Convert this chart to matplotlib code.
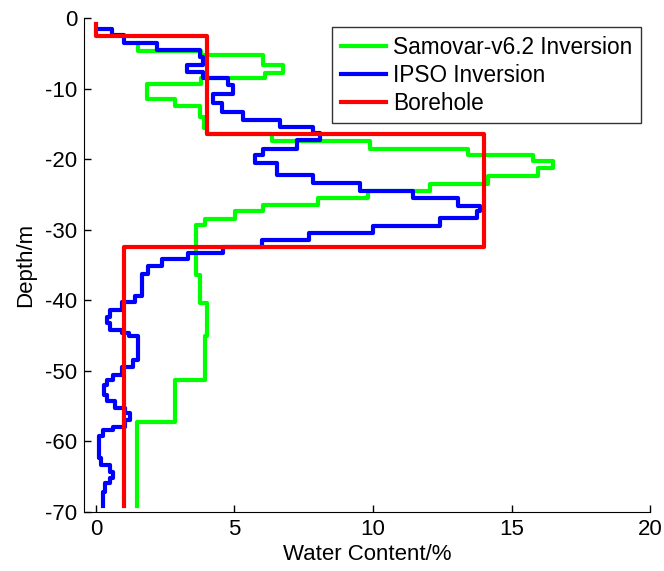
import matplotlib
matplotlib.use("Agg")
import matplotlib.pyplot as plt

plt.rcParams['font.family'] = ['Liberation Sans', 'DejaVu Sans']
plt.rcParams['axes.unicode_minus'] = False

# Samovar-v6.2 inversion (green): layer boundaries (m) and water content per layer (%)
samovar_depth = [-3.6, -4.7, -5.24, -6.66, -7.8, -8.5, -9.4, -11.5, -12.5, -14.0, -15.6,
                 -16.5, -17.5, -18.5, -19.4, -20.3, -21.3, -22.4, -23.5, -24.5, -25.5,
                 -26.5, -27.4, -28.5, -29.3, -36.4, -40.4, -45.1, -51.3, -57.2, -69.1]
samovar_wc = [1.53, 3.81, 6.04, 6.76, 6.1, 3.81, 1.83, 2.85, 3.75, 3.9,
              4.0, 6.34, 9.89, 13.44, 15.79, 16.51, 15.97, 14.16, 12.06, 9.83,
              8.03, 6.04, 5.02, 3.93, 3.63, 3.75, 4.0, 3.93, 2.85, 1.47]
samovar_start = 1.53

# IPSO inversion (blue)
ipso_depth = [-1.6, -2.4, -3.6, -4.6, -5.5, -6.6, -7.6, -8.45, -9.5, -10.7, -12.1,
              -13.3, -14.45, -15.5, -16.3, -17.3, -18.5, -19.4, -20.6, -22.2, -23.4,
              -24.5, -25.5, -26.6, -27.4, -28.4, -29.5, -30.5, -31.4, -32.5, -33.3,
              -34.2, -35.2, -36.3, -39.4, -40.3, -41.4, -42.3, -43.2, -44.2, -44.7,
              -45.1, -48.4, -49.4, -50.6, -51.3, -52.0, -53.4, -54.3, -55.3, -56.0,
              -56.9, -57.9, -58.4, -59.3, -62.4, -63.3, -64.3, -65.2, -65.9, -67.1, -69.1]
ipso_wc = [0.57, 1.02, 2.19, 3.75, 3.87, 3.3, 3.85, 4.78, 4.96, 4.21,
           4.54, 5.32, 6.64, 7.82, 8.09, 7.24, 6.04, 5.74, 6.52, 7.82,
           9.53, 11.46, 13.08, 13.86, 13.74, 12.42, 10.01, 7.7, 6.0, 4.6,
           3.33, 2.37, 1.89, 1.65, 1.41, 0.93, 0.5, 0.39, 0.5, 0.93,
           1.2, 1.53, 1.35, 0.93, 0.63, 0.39, 0.29, 0.39, 0.69, 1.05,
           1.23, 1.05, 0.63, 0.26, 0.12, 0.2, 0.5, 0.63, 0.5, 0.32, 0.24]
ipso_start = 0.08

# Borehole (red)
bore_depth = [-0.8, -2.6, -16.4, -32.4, -69.1]
bore_wc = [0, 4, 14, 1]
bore_start = 0


def stairs(start, depth, wc):
    xs = [start]
    ys = [depth[0]]
    for i in range(len(wc)):
        xs.append(wc[i])
        ys.append(depth[i])
        xs.append(wc[i])
        ys.append(depth[i + 1])
    return xs, ys


fig = plt.figure(figsize=(6.64, 5.71), dpi=100)
ax = fig.add_axes([0.1265, 0.1033, 0.8525, 0.8652])

x1, y1 = stairs(samovar_start, samovar_depth, samovar_wc)
x2, y2 = stairs(ipso_start, ipso_depth, ipso_wc)
x3, y3 = stairs(bore_start, bore_depth, bore_wc)
ax.plot(x1, y1, color=(0, 1, 0), lw=3, label='Samovar-v6.2 Inversion')
ax.plot(x2, y2, color=(0, 0, 1), lw=3, label='IPSO Inversion')
ax.plot(x3, y3, color=(1, 0, 0), lw=3, label='Borehole')

ax.set_xlim(-0.43, 20)
ax.set_ylim(-70, 0)
ax.set_xticks([0, 5, 10, 15, 20])
ax.set_yticks(range(-70, 1, 10))
ax.spines['top'].set_visible(False)
ax.spines['right'].set_visible(False)
ax.tick_params(direction='in', length=5, width=1, labelsize=16, pad=5)
ax.set_xlabel('Water Content/%', fontsize=16, labelpad=3)
ax.set_ylabel('Depth/m', fontsize=16, labelpad=6)

leg = ax.legend(loc='upper right', fontsize=16.3, frameon=True, fancybox=False,
                edgecolor='black', handlelength=2.0, handletextpad=0.3,
                labelspacing=0.22, borderpad=0.38, borderaxespad=0.4)
leg.get_frame().set_linewidth(1)

fig.savefig('out.png', dpi=100)
